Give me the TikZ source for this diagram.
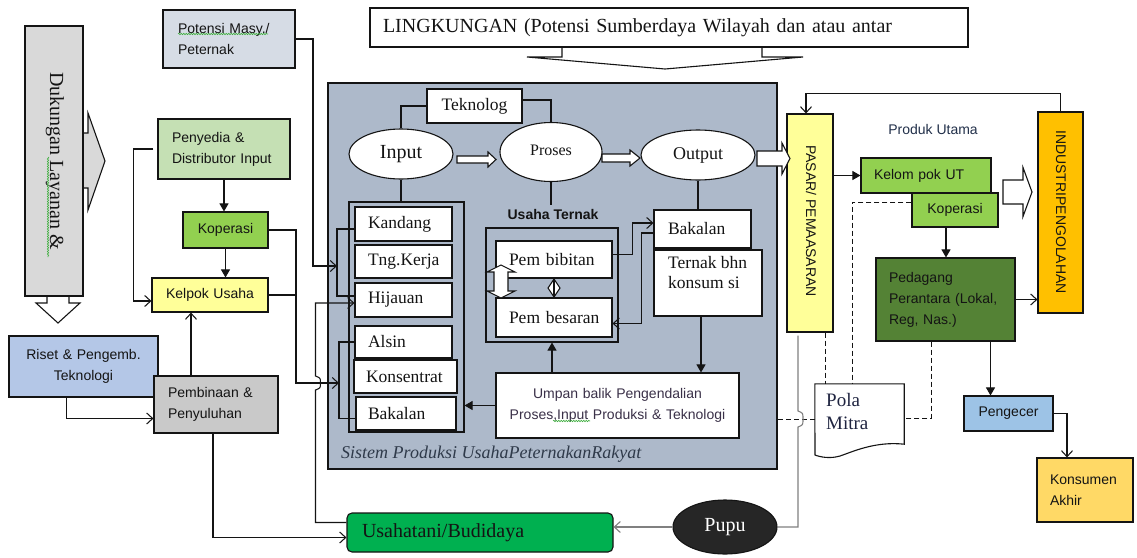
\documentclass[tikz,border=0pt]{standalone}
\usepackage{fontspec}
\setmainfont{Liberation Serif}
\newfontfamily\arialfont{Liberation Sans}
\usetikzlibrary{shapes.geometric,arrows.meta,decorations.pathmorphing}

\definecolor{dukc}{HTML}{D9D9D9}
\definecolor{potc}{HTML}{D6DCE5}
\definecolor{penc}{HTML}{C5E0B4}
\definecolor{kopc}{HTML}{92D050}
\definecolor{yelc}{HTML}{FFFF99}
\definecolor{risc}{HTML}{B4C7E7}
\definecolor{pbnc}{HTML}{C9C9C9}
\definecolor{sysc}{HTML}{ADB9CA}
\definecolor{indc}{HTML}{FFC000}
\definecolor{pdgc}{HTML}{548235}
\definecolor{pgcc}{HTML}{9DC3E6}
\definecolor{konc}{HTML}{FFD966}
\definecolor{usc}{HTML}{00B050}
\definecolor{pupc}{HTML}{262626}
\definecolor{inkc}{HTML}{141414}
\definecolor{umpc}{HTML}{3A3048}
\definecolor{produkc}{HTML}{22304A}
\definecolor{polac}{HTML}{1F2440}
\definecolor{syslc}{HTML}{2F3A4A}
\definecolor{squigc}{HTML}{3FAF3F}

\hyphenpenalty=10000
\exhyphenpenalty=10000

% box node given by its corners: name, x1, y1, x2, y2, style, side padding, text
\newcommand{\boxnode}[8]{%
  \pgfmathsetmacro\bxw{#4-#2-2*#7}%
  \pgfmathsetmacro\bxh{#5-#3}%
  \pgfmathsetmacro\bxx{(#2+#4)/2}%
  \pgfmathsetmacro\bxy{(#3+#5)/2}%
  \node[#6, inner xsep=#7pt, inner ysep=0pt, text width=\bxw pt, minimum height=\bxh pt] (#1) at (\bxx,\bxy) {#8};}

% horizontal block arrow: x start, x tip, y centre, shaft half, head half, head length
\newcommand{\blockarr}[6]{%
  \draw[bx, fill=white, line join=miter] (#1,#3-#4) -- (#2-#6,#3-#4) -- (#2-#6,#3-#5) -- (#2,#3)
    -- (#2-#6,#3+#5) -- (#2-#6,#3+#4) -- (#1,#3+#4) -- cycle;}

\begin{document}
\begin{tikzpicture}[x=1pt,y=-1pt,
  bx/.style={draw=inkc, line width=1.1pt},
  ln/.style={draw=inkc, line width=1.05pt},
  gln/.style={draw=black!50, line width=1.1pt},
  opn/.style={-{Straight Barb[length=6pt,width=11pt]}},
  fil/.style={-{Triangle[length=8pt,width=9pt]}},
  sf/.style={font=\arialfont\fontsize{14}{21}\selectfont, text=inkc},
  rm/.style={font=\fontsize{17.5}{21}\selectfont, text=inkc},
  lt/.style={align=left}, ct/.style={align=center},
  ell/.style={ellipse, draw=inkc, line width=1.1pt, fill=white, inner sep=0pt, text=inkc},
  squig/.style={draw=squigc, line width=0.6pt, decorate, decoration={snake, amplitude=0.7pt, segment length=2.5pt}},
  dsh/.style={draw=inkc, line width=1pt, dash pattern=on 5pt off 3pt},
]
\fill[white] (0,0) rectangle (1137,557);
\useasboundingbox (0,0) rectangle (1137,557);

% ---------- support column ----------
\draw[bx, fill=dukc, line join=miter] (80,133) -- (88,133) -- (88,113) -- (105,161) -- (88,210) -- (88,188) -- (80,188) -- cycle;
\draw[bx, fill=white, line join=miter] (47,290) -- (47,303) -- (36,303) -- (58,323) -- (80,303) -- (69,303) -- (69,290) -- cycle;
\boxnode{dukung}{25}{26}{83}{296}{bx, fill=dukc}{0}{}
\node[font=\fontsize{20}{24}\selectfont, rotate=-90, text=inkc] (dukung-t) at (55,161) {Dukungan Layanan \&};
\draw[squig] (48,157) -- (48,257);

% ---------- left boxes ----------
\boxnode{potensi}{163}{10}{295}{68}{bx, fill=potc, sf, lt}{15}{Potensi Masy./\\Peternak}
\draw[squig] (178,34) -- (268,34);
\boxnode{penyedia}{158}{119}{290}{179}{bx, fill=penc, sf, lt}{14}{Penyedia \&\\Distributor~Input}
\boxnode{kopL}{183}{212}{268}{248}{bx, fill=kopc, sf, ct}{2}{Koperasi}
\boxnode{kelpok}{152}{278}{268}{312}{bx, fill=yelc, sf, ct}{2}{Kelpok~Usaha}
\boxnode{riset}{9}{336}{158}{397}{bx, fill=risc, sf, ct}{2}{Riset~\&~Pengemb.\\Teknologi}
\boxnode{pembinaan}{154}{376}{278}{433}{bx, fill=pbnc, sf, lt}{14}{Pembinaan~\&\\Penyuluhan}

% ---------- environment banner ----------
\draw[bx, fill=white, line join=miter] (562,40) -- (562,57) -- (527,57) -- (665,69) -- (803,57) -- (762,57) -- (762,40) -- cycle;
\boxnode{ling}{370}{8}{968}{47}{bx, fill=white, font=\fontsize{20}{24}\selectfont, text=inkc, lt}{13}{LINGKUNGAN (Potensi Sumberdaya Wilayah dan atau antar}

% ---------- production system ----------
\boxnode{sys}{328}{83}{777}{469}{bx, fill=sysc}{0}{}
\boxnode{tek}{427}{89}{522}{123}{bx, fill=white, rm, ct}{2}{Teknolog}
\node[ell, minimum width=104pt, minimum height=50pt, font=\fontsize{20}{24}\selectfont] (input) at (401,154) {Input};
\node[ell, minimum width=102pt, minimum height=59pt, font=\fontsize{16}{20}\selectfont] (proses) at (551,152) {\raisebox{3pt}{Proses}};
\node[ell, minimum width=114pt, minimum height=50pt, font=\fontsize{18}{22}\selectfont] (output) at (698,155) {Output};
\blockarr{457}{496}{159.5}{3.5}{7.5}{8}
\blockarr{602}{640}{158}{4}{8}{10}

\boxnode{inbox}{349}{202}{464}{432}{bx}{0}{}
\boxnode{kandang}{355}{207}{452}{241}{bx, fill=white, rm, lt}{13}{Kandang}
\boxnode{tngkerja}{355}{245}{452}{278}{bx, fill=white, rm, lt}{13}{Tng.Kerja}
\boxnode{hijauan}{355}{283}{452}{317}{bx, fill=white, rm, lt}{13}{Hijauan}
\boxnode{alsin}{355}{326}{452}{358}{bx, fill=white, rm, lt}{13}{Alsin}
\boxnode{konsentrat}{354}{360}{457}{393}{bx, fill=white, rm, lt}{12}{Konsentrat}
\boxnode{bakalanA}{356}{397}{456}{430}{bx, fill=white, rm, lt}{12}{Bakalan}

\node[font=\arialfont\bfseries\fontsize{14}{16}\selectfont, text=inkc] (utlabel) at (553,214) {Usaha Ternak};
\boxnode{utbox}{486}{228}{618}{342}{bx}{0}{}
\boxnode{pembibitan}{496}{241}{612}{278}{bx, fill=white, rm, lt}{13}{Pem~bibitan}
\boxnode{pembesaran}{496}{298}{612}{337}{bx, fill=white, rm, lt}{13}{Pem~besaran}
\draw[bx, fill=white, line join=miter] (501,265) -- (515,272) -- (508,272) -- (508,291) -- (515,291) -- (501,298)
  -- (487,291) -- (494,291) -- (494,272) -- (487,272) -- cycle;
\draw[bx, fill=white] (554,279) -- (560,288) -- (554,297) -- (548,288) -- cycle;
\draw[ln] (pembibitan.south) -- (pembesaran.north);

\boxnode{bakalanB}{654}{210}{751}{248}{bx, fill=white, rm, lt}{14}{Bakalan}
\boxnode{ternak}{654}{250}{762}{316}{bx, fill=white}{0}{}
\node[font=\fontsize{17.5}{20}\selectfont, text=inkc, align=left, anchor=north west, inner sep=0pt] (ternak-t) at (668,256) {Ternak bhn\\konsum si};
\boxnode{umpan}{496}{373}{739}{438}{bx, fill=white, sf, text=umpc, ct}{2}{Umpan~balik~Pengendalian\\Proses,Input~Produksi~\&~Teknologi}
\draw[squig] (553,421) -- (590,421);
\node[font=\itshape\fontsize{18}{22}\selectfont, text=syslc, anchor=base west, inner sep=0pt] (syslabel) at (341,458) {Sistem Produksi UsahaPeternakanRakyat};

% links inside the system
\draw[ln] (input.north) |- (tek.west);
\draw[ln] ([yshift=6pt]tek.east) -| (proses.north);
\draw[ln] (input.south) -- (input.south |- inbox.north);
\draw[ln] (proses.south) -- (proses.south |- utlabel.north);
\draw[ln] (output.south) -- (output.south |- bakalanB.north);
\draw[ln,opn] ([yshift=5pt]pembibitan.east) -- ++(20,0) |- ([yshift=6pt]bakalanB.west);
\draw[ln,opn] ([yshift=-4pt]bakalanB.west) -- ++(-12,0) |- ([yshift=-6pt]pembesaran.east);
\draw[ln,fil] ([xshift=-7pt]ternak.south) -- ([xshift=-7pt]ternak.south |- umpan.north);
\draw[ln,fil] (utbox.south |- umpan.north) -- (utbox.south);
\draw[ln,fil] (umpan.west) -- (umpan.west -| inbox.east);

% brackets gathering the inputs
\coordinate (brA) at (337,266);
\coordinate (brB) at (339,383);
\coordinate (jn) at (296,383);
\draw[ln] ([yshift=-5pt]kandang.west) -| (brA) |- ([yshift=4pt]hijauan.west);
\draw[ln] (alsin.west) -| (brB) |- ([yshift=-5pt]bakalanA.west);

% ---------- market side ----------
\boxnode{pasar}{787}{114}{833}{332}{bx, fill=yelc}{0}{}
\node[sf, rotate=-90] (pasar-t) at (811,221) {PASAR/ PEMAASARAN};
\blockarr{757}{790}{158.5}{7.5}{15.5}{8}
\boxnode{industri}{1038}{112}{1083}{313}{bx, fill=indc}{0}{}
\node[sf, rotate=-90] (industri-t) at (1061,212) {INDUSTRIPENGOLAHAN};
\node[sf, text=produkc] (produk) at (933,129) {Produk Utama};
\boxnode{kelut}{861}{158}{991}{193}{bx, fill=kopc, sf, lt}{13}{Kelom~pok~UT}
\boxnode{kopR}{912}{193}{998}{227}{bx, fill=kopc, sf, ct}{2}{Koperasi}
\boxnode{pedagang}{876}{258}{1015}{341}{bx, fill=pdgc, sf, lt}{13}{Pedagang\\Perantara~(Lokal,\\Reg,~Nas.)}
\boxnode{pengecer}{964}{396}{1053}{431}{bx, fill=pgcc, sf, ct}{2}{Pengecer}
\boxnode{konsumen}{1037}{458}{1133}{522}{bx, fill=konc, sf, lt}{13}{Konsumen\\Akhir}
\blockarr{1003}{1032}{192}{12}{24.5}{9}

% partnership document
\node[inner sep=0pt, minimum width=89pt, minimum height=60pt] (pola) at (859.5,414) {};
\draw[bx, fill=white] (pola.north west) -- (pola.north east) -- (pola.south east)
  .. controls (875,441) and (852,452) .. (840,456) .. controls (830,459) and (820,457) .. (815,455) -- cycle;
\node[font=\fontsize{19}{23}\selectfont, text=polac, align=left, anchor=north west, inner sep=0pt] (pola-t) at (826,393) {Pola\\Mitra};

% manure and farming
\node[ellipse, draw=inkc, line width=1.1pt, fill=pupc, text=white, minimum width=104pt, minimum height=54pt, inner sep=0pt, font=\fontsize{20}{24}\selectfont] (pupu) at (725,527) {Pupu};
\boxnode{usaha}{347}{513}{613}{552}{bx, fill=usc, rounded corners=5pt, font=\fontsize{20}{24}\selectfont, text=inkc, lt}{15}{Usahatani/Budidaya}

% ---------- connectors, left ----------
\draw[ln,opn] (potensi.east) -| (313,266) -- (brA);
\draw[ln,opn] (kopL.east) -| (jn) -- (brB);
\draw[ln] (kelpok.east) -- (kelpok.east -| jn);
\draw[ln,opn] ([xshift=-4pt]penyedia.west) -- ++(-20,0) |- ([yshift=-6pt]kelpok.west);
\draw[ln,fil] (penyedia.south) -- (penyedia.south |- kopL.north);
\draw[ln,fil] (kopL.south) -- (kopL.south |- kelpok.north);
\draw[ln,opn] ([xshift=-17pt]riset.south) |- ([yshift=-14pt]pembinaan.west);
\draw[ln,opn] ([xshift=-25pt]pembinaan.north) -- ([xshift=-25pt]pembinaan.north |- kelpok.south);
\draw[ln,opn] ([xshift=-3pt]pembinaan.south) |- ([yshift=-5pt]usaha.west);
\draw[ln,opn] ([yshift=10pt]usaha.west) -| (315.5,390) .. controls (320.5,388) .. (320.5,383)
  .. controls (320.5,378) .. (315.5,376) |- ([yshift=-3pt]hijauan.west);

% ---------- connectors, right ----------
\draw[ln,opn] (industri.north) -- ++(0,-18) -| ([xshift=-4pt]pasar.north);
\draw[ln,fil] (pasar.east |- kelut.west) -- (kelut.west);
\draw[ln,fil] ([xshift=-9pt]kopR.south) -- ([xshift=-9pt]kopR.south |- pedagang.north);
\draw[ln,opn] (pedagang.east) -- (pedagang.east -| industri.west);
\draw[ln,fil] ([xshift=45pt]pedagang.south) -- ([xshift=45pt]pedagang.south |- pengecer.north);
\draw[ln,opn] (pengecer.east) -| ([xshift=-18pt]konsumen.north);

\draw[dsh] ([xshift=15pt]pasar.south) -- ([xshift=15pt]pasar.south |- pola.north);
\draw[dsh] ([yshift=8pt]kopR.west) -| ([xshift=-7.5pt]pola.north);
\draw[dsh] ([xshift=-14.5pt]pedagang.south) |- ([yshift=-4pt]pola.east);
\draw[dsh] ([yshift=-5pt]pola.west) -- ([yshift=-5pt]pola.west -| sys.east);

\draw[gln] ([xshift=-12pt,yshift=-3pt]pasar.south) -- (798,411) .. controls (803,413) .. (803,419)
  .. controls (803,425) .. (798,427) |- (pupu.east);
\draw[gln,opn] (pupu.west) -- (pupu.west -| usaha.east);
\end{tikzpicture}
\end{document}
